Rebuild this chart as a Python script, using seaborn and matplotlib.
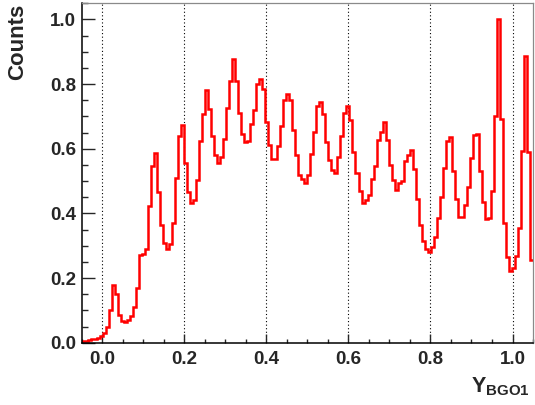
import numpy as np
import pandas as pd
import matplotlib
matplotlib.use("Agg")
import matplotlib.pyplot as plt
import seaborn as sns
from matplotlib.ticker import MultipleLocator

# histogram definition (150 bins over the x range)
bin_lo, bin_hi, n_bins = -0.05, 1.05, 150

# normalised counts per bin
counts = [
    0.004, 0.006, 0.008, 0.010, 0.013, 0.016, 0.021, 0.030, 0.048, 0.102,
    0.180, 0.152, 0.086, 0.068, 0.063, 0.070, 0.083, 0.110, 0.168, 0.270,
    0.275, 0.290, 0.422, 0.546, 0.588, 0.465, 0.365, 0.310, 0.291, 0.306,
    0.371, 0.511, 0.640, 0.675, 0.556, 0.467, 0.433, 0.441, 0.504, 0.623,
    0.707, 0.783, 0.724, 0.639, 0.580, 0.556, 0.575, 0.631, 0.726, 0.810,
    0.878, 0.810, 0.710, 0.645, 0.620, 0.625, 0.678, 0.721, 0.800, 0.817,
    0.784, 0.684, 0.613, 0.568, 0.568, 0.608, 0.670, 0.751, 0.770, 0.751,
    0.658, 0.580, 0.520, 0.507, 0.493, 0.520, 0.585, 0.652, 0.733, 0.746,
    0.709, 0.621, 0.566, 0.533, 0.525, 0.576, 0.640, 0.710, 0.731, 0.688,
    0.590, 0.524, 0.468, 0.433, 0.440, 0.458, 0.505, 0.548, 0.626, 0.651,
    0.683, 0.628, 0.551, 0.504, 0.473, 0.493, 0.499, 0.561, 0.580, 0.595,
    0.536, 0.446, 0.364, 0.315, 0.290, 0.282, 0.297, 0.328, 0.385, 0.452,
    0.540, 0.623, 0.635, 0.530, 0.444, 0.389, 0.389, 0.427, 0.481, 0.573,
    0.642, 0.646, 0.532, 0.435, 0.383, 0.385, 0.468, 0.700, 1.000, 0.692,
    0.370, 0.265, 0.222, 0.232, 0.267, 0.355, 0.592, 0.888, 0.589, 0.256,
]

x_title = r"Y$_{\mathbf{BGO1}}$"
y_title = "Counts"

edges = np.linspace(bin_lo, bin_hi, n_bins + 1)
df = pd.DataFrame({"y": 0.5 * (edges[:-1] + edges[1:]), "w": counts})

sns.set_style("ticks")
plt.rcParams["font.family"] = ["Liberation Sans", "DejaVu Sans"]
plt.rcParams["font.weight"] = "bold"
plt.rcParams["mathtext.fontset"] = "custom"
plt.rcParams["mathtext.rm"] = "Liberation Sans:bold"
plt.rcParams["mathtext.bf"] = "Liberation Sans:bold"
plt.rcParams["mathtext.it"] = "Liberation Sans:bold"

fig = plt.figure(figsize=(5.35, 4.05), dpi=100)
ax = fig.add_axes([0.1527, 0.1538, 0.8436, 0.838])

sns.histplot(data=df, x="y", weights="w", bins=n_bins,
             binrange=(bin_lo, bin_hi), element="step", fill=False,
             color="#ff0000", linewidth=1.8, solid_joinstyle="miter", ax=ax)

ax.set_xlim(bin_lo, bin_hi)
ax.set_ylim(0, 1.05)

# dotted vertical grid at the major x ticks
ax.set_axisbelow(True)
ax.grid(axis="x", color="black", linestyle=(0, (1, 2.2)), linewidth=0.8)
ax.grid(axis="y", visible=False)

ax.xaxis.set_major_locator(MultipleLocator(0.2))
ax.xaxis.set_minor_locator(MultipleLocator(0.05))
ax.yaxis.set_major_locator(MultipleLocator(0.2))
ax.yaxis.set_minor_locator(MultipleLocator(0.05))

ax.tick_params(axis="x", which="major", direction="in", length=6.5,
               width=1.0, labelsize=13.5, pad=6, top=False)
ax.tick_params(axis="x", which="minor", direction="in", length=3.2,
               width=1.0, top=False)
ax.tick_params(axis="y", which="major", direction="in", length=9,
               width=1.0, labelsize=13.5, pad=4, right=False)
ax.tick_params(axis="y", which="minor", direction="in", length=4.3,
               width=1.0, right=False)

for side in ["left", "bottom"]:
    ax.spines[side].set_color("black")
    ax.spines[side].set_linewidth(1.1)
for side in ["top", "right"]:
    ax.spines[side].set_visible(True)
    ax.spines[side].set_color("#8a8a8a")
    ax.spines[side].set_linewidth(0.9)

ax.set_xlabel(x_title, fontsize=15.5, fontweight="bold", loc="right")
ax.xaxis.set_label_coords(0.994, -0.095)
ax.set_ylabel(y_title, fontsize=16, fontweight="bold", loc="top")
ax.yaxis.set_label_coords(-0.118, 1.0)

fig.savefig("out.png", dpi=100)
